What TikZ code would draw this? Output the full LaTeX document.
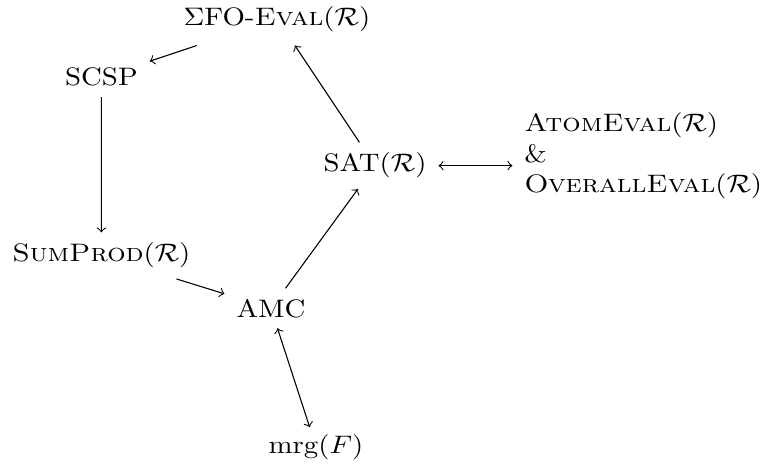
\documentclass[tikz,border=0pt]{standalone}
\usepackage{tikz}
\usepackage{amsmath}

\begin{document}
\begin{tikzpicture}[box/.style={anchor=base,inner sep=4pt,xscale=1.06,yscale=0.93}]
    \useasboundingbox (0,0) rectangle (9.884,-6.098);

    \node[box,inner ysep=5.4pt] (sigma) at (3.579,-0.323) {$\Sigma$FO-\textsc{Eval}$(\mathcal{R})$};
    \node[box] (scsp) at (1.31,-1.111) {SCSP};
    \node[box] (sat) at (4.845,-2.222) {SAT$(\mathcal{R})$};
    \node[box] (sumprod) at (1.31,-3.385) {\textsc{SumProd}$(\mathcal{R})$};
    \node[box] (amc) at (3.501,-4.096) {AMC};
    \node[box,inner ysep=2.5pt] (mrg) at (4.083,-5.853) {mrg$(F)$};

    \node[box,anchor=west,align=left] (atom) at (6.62,-2.012)
        {\textsc{AtomEval}$(\mathcal{R})$\\ \&\\ \textsc{OverallEval}$(\mathcal{R})$};

    \draw[->] (sigma) -- (scsp);
    \draw[->] (sat) -- (sigma);
    \draw[->] (scsp) -- (sumprod);
    \draw[->] (sumprod) -- (amc);
    \draw[->] (amc) -- (sat);
    \draw[<->] (amc) -- (mrg);
    \draw[<->] (sat.east) -- (sat.east -| atom.west);
\end{tikzpicture}
\end{document}
